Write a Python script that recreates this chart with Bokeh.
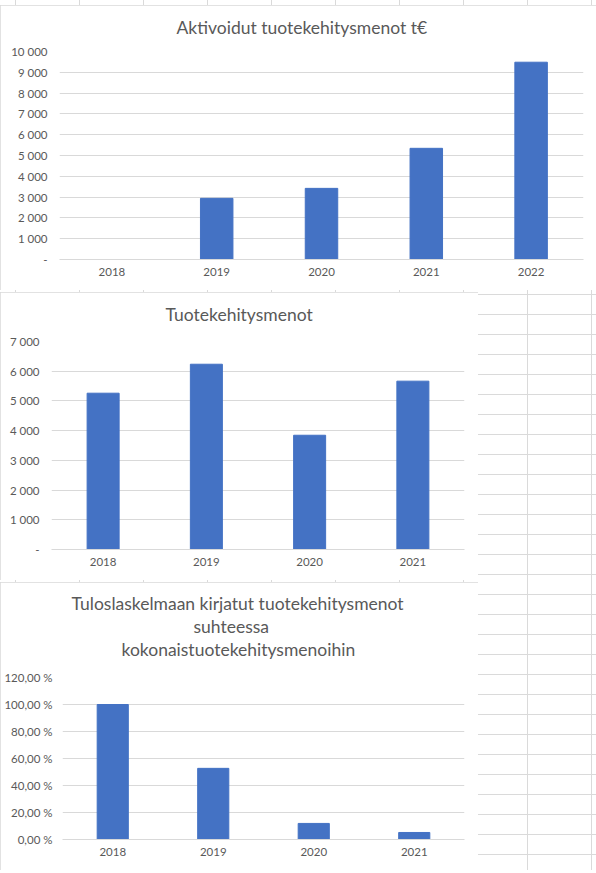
#import the libraries
from bokeh.plotting import figure
from bokeh.layouts import row
from bokeh.models import Range1d, FixedTicker, Title, Spacer
from bokeh.embed import file_html
from bokeh.resources import INLINE

# data
years1 = ["2018", "2019", "2020", "2021", "2022"]
aktivoidut = [0, 2940, 3420, 5345, 9485]

years2 = ["2018", "2019", "2020", "2021"]
menot = [5260, 6235, 3845, 5665]

years3 = ["2018", "2019", "2020", "2021"]
osuus = [100.0, 52.7, 11.9, 5.2]

ticks1 = [0, 1000, 2000, 3000, 4000, 5000, 6000, 7000, 8000, 9000, 10000]
ticks2 = [0, 1000, 2000, 3000, 4000, 5000, 6000, 7000]
ticks3 = [0, 20, 40, 60, 80, 100, 120]

BLUE = "#4472C4"
GREY = "#d9d9d9"
TXT = "#595959"
FONT = "Lato"

# spreadsheet cells seen around the charts (lines fixed to the window)
grid_css = {
    "background-color": "white",
    "background-image": "linear-gradient(to right, transparent 15px, #dadada 15px, "
                        "#dadada 16px, transparent 16px), "
                        "linear-gradient(to bottom, transparent 14px, #dadada 14px, "
                        "#dadada 15px, transparent 15px)",
    "background-size": "64px 20px",
    "background-attachment": "fixed",
}


def thousands(v):
    if v == 0:
        return "-"
    return "{:,}".format(v).replace(",", " ")


def percent(v):
    return "{:.2f} %".format(v).replace(".", ",")


def make_chart(cats, vals, ticks, labels, ymax, w, h, left, right, top, bottom, ystand=12):
    p = figure(x_range=cats, y_range=Range1d(0, ymax), width=w, height=h,
               min_border_left=left, min_border_right=right,
               min_border_top=top, min_border_bottom=bottom,
               output_backend="svg", toolbar_location=None,
               styles={"outline": "1px solid " + GREY, "outline-offset": "-1px"})
    p.title = None
    p.vbar(x=cats, top=vals, width=0.31, color=BLUE)
    p.outline_line_color = None
    p.xgrid.grid_line_color = None
    p.ygrid.grid_line_color = GREY
    p.yaxis.ticker = FixedTicker(ticks=ticks)
    p.yaxis.major_label_overrides = {t: lab for t, lab in zip(ticks, labels)}
    p.yaxis.axis_line_color = None
    p.yaxis.major_label_standoff = ystand
    p.xaxis.axis_line_color = GREY
    p.xaxis.major_label_standoff = 8
    for ax in (p.xaxis, p.yaxis):
        ax.major_tick_line_color = None
        ax.minor_tick_line_color = None
        ax.major_tick_out = 0
        ax.major_tick_in = 0
        ax.minor_tick_out = 0
        ax.major_label_text_font = FONT
        ax.major_label_text_font_size = "11.5px"
        ax.major_label_text_color = TXT
    return p


def add_title(p, text, offset, standoff, size="17.5px"):
    p.add_layout(Title(text=text, align="left", offset=offset, standoff=standoff,
                       text_font=FONT, text_font_size=size,
                       text_font_style="normal", text_color=TXT), "above")


p1 = make_chart(years1, aktivoidut, ticks1, [thousands(t) for t in ticks1], 10000,
                596, 285, 59, 13, 46, 31)
add_title(p1, " ", 0, 11, size="1px")
add_title(p1, "Aktivoidut tuotekehitysmenot t€", 117, 0)

p2 = make_chart(years2, menot, ticks2, [thousands(t) for t in ticks2], 7000,
                478, 288, 51, 14, 49, 31)
add_title(p2, " ", 0, 14, size="1px")
add_title(p2, "Tuotekehitysmenot", 114, 0)

p3 = make_chart(years3, osuus, ticks3, [percent(t) for t in ticks3], 120,
                478, 288, 62, 14, 95, 31, ystand=10)
add_title(p3, " ", 0, 15, size="1px")
add_title(p3, "kokonaistuotekehitysmenoihin", 59, 0)
add_title(p3, "suhteessa", 131, 0)
add_title(p3, "Tuloslaskelmaan kirjatut tuotekehitysmenot", 9, 0)

# separate roots so that the frames are not aligned to each other
roots = [
    Spacer(width=596, height=5, styles=grid_css),
    p1,
    Spacer(width=596, height=2, styles=grid_css),
    row(p2, Spacer(width=118, height=288, styles=grid_css)),
    Spacer(width=596, height=2, styles=grid_css),
    row(p3, Spacer(width=118, height=288, styles=grid_css)),
]

open("out.html", "w").write(file_html(roots, INLINE))
